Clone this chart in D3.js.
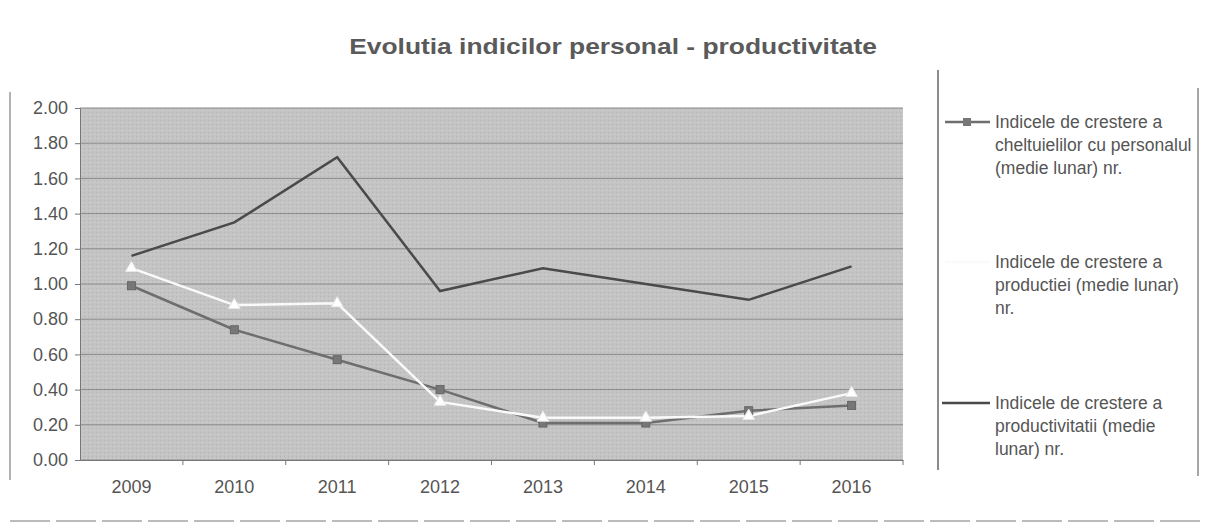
<!DOCTYPE html>
<html>
<head>
<meta charset="utf-8">
<script src="https://cdn.jsdelivr.net/npm/d3@7"></script>
<style>
  body { margin: 0; background: #fff; }
  text { font-family: "Liberation Sans", Arial, sans-serif; }
</style>
</head>
<body>
<svg width="1207" height="528"></svg>
<script>
let years = ["2009", "2010", "2011", "2012", "2013", "2014", "2015", "2016"];
let cheltuieli = [0.99, 0.74, 0.57, 0.40, 0.21, 0.21, 0.28, 0.31];
let productie = [1.09, 0.88, 0.89, 0.33, 0.24, 0.24, 0.25, 0.38];
let productivitate = [1.16, 1.35, 1.72, 0.96, 1.09, 1.00, 0.91, 1.10];
let yTicks = [0, 0.2, 0.4, 0.6, 0.8, 1.0, 1.2, 1.4, 1.6, 1.8, 2.0];
let legendLabels = [
    ["Indicele de crestere a", "cheltuielilor cu personalul", "(medie lunar) nr."],
    ["Indicele de crestere a", "productiei (medie lunar)", "nr."],
    ["Indicele de crestere a", "productivitatii (medie", "lunar)  nr."]
];

let svg = d3.select("svg"),
    margin = {top: 108, left: 80},
    width = 823,
    height = 352,
    g = svg.append("g").attr("transform", "translate(" + margin.left + "," + margin.top + ")");

// dither pattern for the scanned grey plot area
let defs = svg.append("defs");
let pat = defs.append("pattern").attr("id", "dither")
    .attr("width", 4).attr("height", 4).attr("patternUnits", "userSpaceOnUse");
pat.append("rect").attr("width", 4).attr("height", 4).attr("fill", "#c4c4c4");
pat.append("rect").attr("x", 0).attr("y", 0).attr("width", 1).attr("height", 1).attr("fill", "#b4b4b4");
pat.append("rect").attr("x", 2).attr("y", 2).attr("width", 1).attr("height", 1).attr("fill", "#d0d0d0");

let x = d3.scaleBand().domain(years).range([0, width]),
    y = d3.scaleLinear().domain([0, 2]).range([height, 0]);

// outer frame bits
svg.append("line").attr("x1", 10).attr("x2", 10).attr("y1", 92).attr("y2", 480)
    .attr("stroke", "#999").attr("stroke-width", 1.5);
svg.append("line").attr("x1", 938).attr("x2", 938).attr("y1", 70).attr("y2", 470)
    .attr("stroke", "#666").attr("stroke-width", 1.5);
svg.append("line").attr("x1", 1198).attr("x2", 1198).attr("y1", 88).attr("y2", 476)
    .attr("stroke", "#888").attr("stroke-width", 1.5);
svg.append("line").attr("x1", 10).attr("x2", 1200).attr("y1", 521).attr("y2", 521)
    .attr("stroke", "#bbb").attr("stroke-width", 2).attr("stroke-dasharray", "40,6");

g.append("rect").attr("width", width).attr("height", height).attr("fill", "url(#dither)");

g.selectAll(".grid").data(yTicks).enter().append("line")
    .attr("class", "grid")
    .attr("x1", 0).attr("x2", width)
    .attr("y1", function(d) { return y(d); })
    .attr("y2", function(d) { return y(d); })
    .attr("stroke", "#8a8a8a").attr("stroke-width", 1);

g.append("g")
    .attr("class", "axis axis--y")
    .call(d3.axisLeft(y).tickValues(yTicks).tickFormat(d3.format(".2f")).tickSize(5).tickPadding(7))
    .call(function(a) {
        a.select(".domain").attr("stroke", "#777");
        a.selectAll("line").attr("stroke", "#777");
        a.selectAll("text").attr("fill", "#555").style("font-size", "18px");
    });

g.append("g")
    .attr("class", "axis axis--x")
    .attr("transform", "translate(0," + height + ")")
    .call(d3.axisBottom(x).tickSize(0).tickPadding(20))
    .call(function(a) {
        a.select(".domain").attr("stroke", "#777");
        a.selectAll("text").attr("fill", "#555").style("font-size", "18px");
    });

// category separator ticks
g.selectAll(".sep").data(years.slice(1).concat(["end"])).enter().append("line")
    .attr("x1", function(d, i) { return x.bandwidth() * (i + 1); })
    .attr("x2", function(d, i) { return x.bandwidth() * (i + 1); })
    .attr("y1", height).attr("y2", height + 5)
    .attr("stroke", "#777");

let line = d3.line()
    .x(function(d, i) { return x(years[i]) + x.bandwidth() / 2; })
    .y(function(d) { return y(d); });

g.append("path").datum(cheltuieli).attr("d", line)
    .attr("fill", "none").attr("stroke", "#6e6e6e").attr("stroke-width", 2.5);
g.append("path").datum(productie).attr("d", line)
    .attr("fill", "none").attr("stroke", "#fafafa").attr("stroke-width", 2.5);
g.append("path").datum(productivitate).attr("d", line)
    .attr("fill", "none").attr("stroke", "#4a4a4a").attr("stroke-width", 2.5);

g.selectAll(".sq").data(cheltuieli).enter().append("rect")
    .attr("x", function(d, i) { return x(years[i]) + x.bandwidth() / 2 - 4; })
    .attr("y", function(d) { return y(d) - 4; })
    .attr("width", 8).attr("height", 8)
    .attr("fill", "#777").attr("stroke", "#666");

let tri = d3.symbol().type(d3.symbolTriangle).size(60);
g.selectAll(".tri").data(productie).enter().append("path")
    .attr("d", tri)
    .attr("transform", function(d, i) { return "translate(" + (x(years[i]) + x.bandwidth() / 2) + "," + y(d) + ")"; })
    .attr("fill", "#fff").attr("stroke", "#e8e8e8");

// title, stretched horizontally like the scan
svg.append("text")
    .attr("transform", "translate(613,54) scale(1.2,1)")
    .attr("text-anchor", "middle")
    .attr("fill", "#5a5a5a")
    .style("font-size", "22px").style("font-weight", "bold")
    .text("Evolutia indicilor personal - productivitate");

// legend
let legendY = [122, 262, 403];
let leg = svg.append("g");
leg.append("line").attr("x1", 945).attr("x2", 990).attr("y1", legendY[0]).attr("y2", legendY[0])
    .attr("stroke", "#6e6e6e").attr("stroke-width", 2.5);
leg.append("rect").attr("x", 963).attr("y", legendY[0] - 4).attr("width", 8).attr("height", 8)
    .attr("fill", "#777");
leg.append("line").attr("x1", 945).attr("x2", 990).attr("y1", legendY[1]).attr("y2", legendY[1])
    .attr("stroke", "#fafafa").attr("stroke-width", 2.5);
leg.append("line").attr("x1", 942).attr("x2", 990).attr("y1", legendY[2]).attr("y2", legendY[2])
    .attr("stroke", "#4a4a4a").attr("stroke-width", 2.5);

legendLabels.forEach(function(lines, k) {
    let t = leg.append("text").attr("x", 995).attr("y", legendY[k] + 6)
        .attr("fill", "#555").style("font-size", "17.5px");
    lines.forEach(function(s, j) {
        t.append("tspan").attr("x", 995).attr("dy", j === 0 ? 0 : 23).text(s);
    });
});
</script>
</body>
</html>
